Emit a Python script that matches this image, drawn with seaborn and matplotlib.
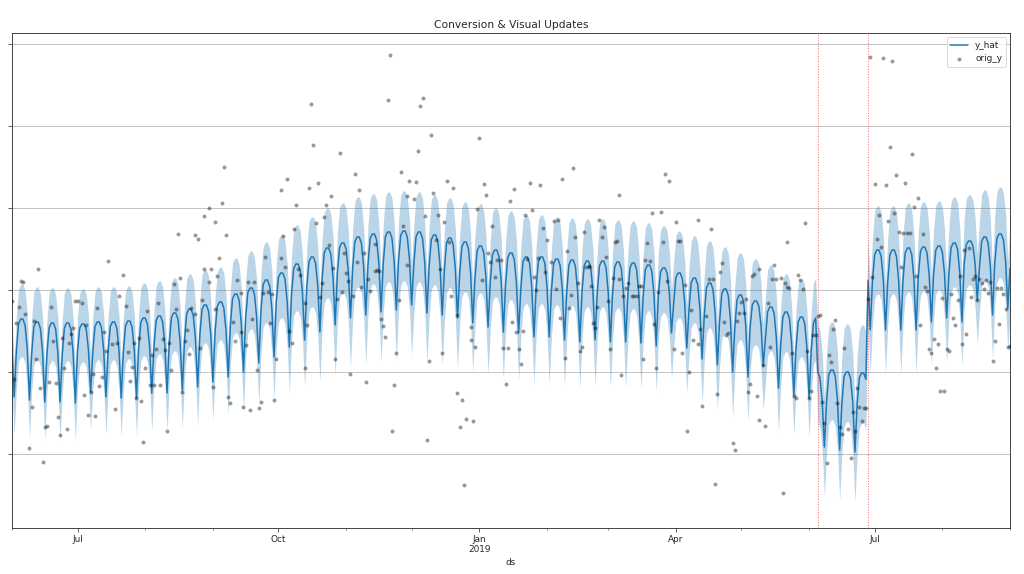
import numpy as np
import pandas as pd
import matplotlib
matplotlib.use("Agg")
import matplotlib.pyplot as plt
import matplotlib.dates as mdates
from matplotlib.ticker import FuncFormatter
import seaborn as sns

# ---------------- data ----------------
start_date = "2018-06-01"
end_date = "2019-09-01"
event_start = "2019-06-05"
event_end = "2019-06-28"

# share of the weekly drop (peak -> trough), Sunday .. Saturday
week_profile = [0.40, 0.06, 0.0, 0.0, 0.08, 0.38, 1.0]

# weekly plateau (peak) and Saturday trough of y_hat, weeks Sun-Sat
week_peak = [209, 209, 206, 205, 205, 204, 206, 206, 207, 210,
             212, 215, 219, 223, 226, 234, 240, 248, 255, 264,
             271, 280, 285, 291, 294, 296, 297, 296, 293, 290,
             286, 282, 278, 275, 271, 271, 269, 268, 267, 267,
             266, 265, 263, 260, 255, 250, 245, 239, 233, 227,
             221, 216, 211, 210, 212, 218, 278, 278, 278, 280,
             281, 282, 285, 287, 291, 294, 296]
week_dip = [131, 128, 126, 126, 125, 136, 131, 130, 130, 135,
            135, 138, 141, 146, 151, 156, 165, 171, 181, 188,
            196, 203, 210, 213, 216, 218, 223, 215, 213, 210,
            205, 201, 196, 195, 191, 191, 188, 186, 188, 186,
            186, 185, 182, 195, 180, 169, 163, 156, 151, 162,
            140, 133, 130, 130, 132, 135, 198, 198, 198, 198,
            206, 210, 206, 228, 213, 220, 205]
# uncertainty above / below y_hat
week_up = [35] * 15 + [36, 37, 38, 38, 39] + [40] * 11 + [42] * 20 + [38, 38] + \
          [40, 48, 48, 44] + [44, 44, 45, 45, 45, 46, 46, 47, 47, 47]
week_lo = [38] * 15 + [39, 41, 43, 45, 47] + [50] * 11 + \
          [47, 47, 47, 47, 47, 46, 46, 46, 46, 46, 46, 46, 45, 45, 45, 45, 45, 45, 44, 44] + \
          [40, 40] + [42, 50, 50, 44] + [44] * 10

# event period (between red lines)
event_peak = [156, 158, 156, 155]
event_dip = [81, 78, 76, 76]
event_up = 48
event_lo = 50

# observed points (day offset from start_date, value)
obs_day = [
    0, 1, 2, 3, 4, 5, 6, 8, 9, 10,
    11, 12, 13, 14, 15, 16, 17, 18, 19, 20,
    21, 22, 23, 24, 25, 26, 27, 28, 29, 30,
    32, 33, 34, 35, 36, 37, 38, 39, 40, 41,
    42, 43, 44, 46, 47, 48, 49, 51, 52, 53,
    54, 55, 56, 57, 58, 59, 60, 61, 62, 63,
    64, 65, 66, 67, 68, 69, 70, 71, 72, 73,
    74, 75, 76, 77, 78, 79, 80, 81, 82, 84,
    84, 85, 86, 87, 88, 88, 90, 90, 91, 92,
    93, 93, 94, 95, 96, 97, 98, 99, 100, 101,
    102, 103, 105, 106, 108, 109,
    113, 114, 120, 162, 174, 175, 112, 107, 105, 110,
    111, 115, 117, 119, 118, 121, 127, 128, 134, 134,
    135, 131, 132, 125, 141, 142, 148, 147, 149, 151,
    153, 154, 155, 156, 158, 160, 163, 164, 166, 167,
    168, 169, 170, 171, 176, 177, 181, 191, 190, 196,
    197, 201, 204, 204, 205, 206, 207, 208, 210, 210,
    211, 212, 215,
    173, 137, 172, 188, 187, 192, 214, 138, 150, 186,
    157, 178, 123, 126, 130, 136, 140, 146, 144, 159,
    182, 185, 181, 184, 199, 202, 193, 216, 217, 213,
    189, 195, 198, 139, 143, 129, 124, 116, 123, 145,
    179, 166, 194, 200, 152, 161, 218,
    228, 230, 237, 242, 252, 257, 278, 299, 301, 220,
    235, 238, 243, 245, 248, 250, 222, 224, 236, 241,
    247, 254, 258, 262, 269, 271, 270, 272, 276, 277,
    264, 290, 292, 291, 293, 297, 298, 304, 305, 306,
    314, 320, 325, 342, 349, 355,
    226, 233, 225, 227, 232, 229, 231, 234, 253, 260,
    261, 274, 279, 289, 295, 303, 307, 309, 310, 312,
    314, 316, 323, 322, 330, 331, 337, 338, 341, 342,
    345, 353, 347, 332, 326, 327, 328, 318, 315, 294,
    266, 267, 251, 255, 268, 273, 280, 284, 285, 286,
    287, 288, 282, 281, 296, 300, 308, 311, 319, 321,
    324, 333, 335, 334, 336, 339, 340, 346, 348, 350,
    352, 354, 355, 344, 219, 221, 239, 240, 244, 249,
    256, 259, 263, 264, 265, 275, 278,
    356, 360, 361, 362, 357, 358, 359, 364, 365, 366,
    367, 368, 369, 370, 371, 372, 373, 374, 375, 376,
    377, 378, 379, 380, 381, 383, 384, 385, 386, 387,
    388, 389, 390, 391, 392, 394, 407, 414, 416, 418,
    419, 420, 421, 422, 423, 424, 425, 427, 426, 428,
    429, 430, 431, 432, 433, 434, 435, 436, 437, 439,
    440, 441, 442, 443, 444, 445, 446, 447, 448, 449,
    450, 451, 452, 453, 454, 455, 456, 457, 363, 393,
    399, 403, 402, 412, 395, 400, 405, 409, 415, 413,
    397, 404, 401, 406, 408, 410, 411, 417, 396, 398,
    438,
]
obs_val = [
    227, 149, 205, 221, 247, 246, 214, 80, 121, 207,
    169, 259, 140, 66, 101, 102, 146, 221, 187, 145,
    111, 93, 190, 160, 99, 185, 194, 200, 227, 227,
    225, 133, 203, 113, 136, 154, 112, 220, 142, 151,
    196, 177, 267, 184, 119, 185, 232, 253, 222, 176,
    147, 161, 185, 130, 190, 127, 86, 160, 217, 143,
    173, 143, 179, 225, 143, 189, 178, 97, 185, 158,
    244, 219, 294, 250, 136, 187, 198, 174, 220, 214,
    293, 289, 180, 228, 259, 312, 246, 320, 259, 141,
    219, 306, 252, 270, 325, 361, 293, 131, 125, 206,
    187, 248, 235, 121, 246, 118,
    120, 126, 128, 146, 97, 143, 158, 183, 196, 209,
    246, 235, 236, 234, 205, 169, 197, 185, 225, 160,
    203, 259, 253, 261, 231, 245, 169, 260, 229, 236,
    255, 247, 154, 232, 266, 241, 249, 237, 257, 258,
    257, 209, 202, 191, 175, 228, 263, 167, 88, 259,
    175, 232, 213, 135, 101, 128, 43, 109, 188, 201,
    107, 181, 248,
    473, 424, 428, 430, 422, 393, 390, 383, 375, 377,
    354, 356, 338, 349, 323, 340, 345, 332, 323, 338,
    347, 346, 332, 329, 347, 340, 335, 344, 333, 319,
    312, 313, 306, 305, 311, 299, 292, 271, 270, 283,
    302, 284, 288, 286, 275, 275, 275,
    327, 339, 345, 343, 349, 360, 333, 354, 347, 302,
    313, 318, 300, 288, 307, 308, 268, 268, 269, 270,
    266, 277, 291, 296, 308, 301, 291, 271, 286, 287,
    261, 268, 267, 285, 315, 316, 286, 306, 287, 287,
    308, 299, 265, 259, 263, 286,
    144, 164, 180, 180, 179, 206, 196, 197, 170, 177,
    181, 179, 153, 169, 160, 179, 175, 97, 156, 188,
    184, 122, 134, 44, 85, 78, 136, 144, 132, 108,
    102, 35, 181, 207, 206, 193, 195, 212, 199, 204,
    205, 200, 210, 220, 221, 227, 232, 232, 232, 232,
    242, 242, 245, 240, 236, 247, 243, 218, 249, 249,
    256, 215, 215, 226, 229, 252, 254, 225, 249, 249,
    250, 245, 241, 163, 266, 251, 251, 238, 256, 239,
    233, 245, 261, 262, 242, 250, 249,
    240, 253, 248, 239, 175, 132, 130, 177, 130, 137,
    193, 193, 212, 213, 126, 105, 65, 173, 166, 199,
    208, 125, 101, 94, 180, 99, 70, 116, 97, 140,
    121, 107, 120, 120, 229, 251, 261, 252, 203, 241,
    237, 179, 175, 189, 160, 184, 137, 137, 230, 179,
    177, 234, 210, 203, 228, 252, 184, 278, 194, 231,
    249, 252, 228, 249, 245, 239, 248, 235, 246, 167,
    187, 240, 204, 240, 234, 219, 181, 182, 305, 471,
    470, 467, 381, 374, 344, 343, 353, 345, 330, 321,
    313, 315, 307, 296, 295, 295, 295, 294, 289, 281,
    280,
]

y_grid = [74, 156, 238, 320, 402, 484]
y_limits = (0, 495)

# ---------------- build series ----------------
ds = pd.date_range(start_date, end_date, freq="D")
dow = np.asarray(ds.dayofweek)
pos = (dow + 1) % 7                 # 0 = Sunday ... 6 = Saturday
week = np.cumsum(dow == 6)          # a new week starts each Sunday
prof = np.asarray(week_profile)[pos]

peak = np.asarray(week_peak, float)[week]
dip = np.asarray(week_dip, float)[week]
up = np.asarray(week_up, float)[week]
lo = np.asarray(week_lo, float)[week]

in_evt = np.asarray((ds >= event_start) & (ds < event_end))
ew = week[in_evt] - week[in_evt].min()
peak[in_evt] = np.asarray(event_peak, float)[ew]
dip[in_evt] = np.asarray(event_dip, float)[ew]
up[in_evt] = event_up
lo[in_evt] = event_lo

y_hat = peak - (peak - dip) * prof
fc = pd.DataFrame({"ds": ds, "y_hat": y_hat,
                   "lower": y_hat - lo, "upper": y_hat + up})
obs = pd.DataFrame({"ds": pd.Timestamp(start_date) + pd.to_timedelta(obs_day, unit="D"),
                    "orig_y": obs_val})

# ---------------- plot ----------------
sns.set_style("ticks")
plt.rcParams["font.family"] = ["DejaVu Sans"]

fig = plt.figure(figsize=(16, 574 / 64), dpi=64)
ax = fig.add_axes([12 / 1024, 46 / 574, 998 / 1024, 495 / 574])

ax.fill_between(fc["ds"], fc["lower"], fc["upper"], color="#1f77b4",
                alpha=0.3, linewidth=0, zorder=1)
sns.lineplot(data=fc, x="ds", y="y_hat", ax=ax, color="#1f77b4",
             linewidth=1.7, label="y_hat", zorder=2)
sns.scatterplot(data=obs, x="ds", y="orig_y", ax=ax, color="black",
                alpha=0.4, s=20, linewidth=0, label="orig_y", zorder=3)

for d in (event_start, event_end):
    ax.axvline(pd.Timestamp(d), color="red", linestyle=":", linewidth=1.1,
               alpha=0.6, zorder=4)

ax.set_xlim(pd.Timestamp(start_date), pd.Timestamp(end_date))
ax.set_ylim(*y_limits)
ax.set_yticks(y_grid)
ax.set_yticklabels([])
ax.yaxis.grid(True, color="#bdbdbd", linewidth=1.0)
ax.xaxis.grid(False)


def fmt(x, _):
    d = mdates.num2date(x)
    return d.strftime("%b\n%Y") if d.month == 1 else d.strftime("%b")


ax.xaxis.set_major_locator(mdates.MonthLocator(bymonth=[1, 4, 7, 10]))
ax.xaxis.set_minor_locator(mdates.MonthLocator())
ax.xaxis.set_major_formatter(FuncFormatter(fmt))
ax.tick_params(axis="both", which="major", length=4, width=0.8, labelsize=10)
ax.tick_params(axis="x", which="minor", length=2, width=0.6)
for lab in ax.get_xticklabels():
    lab.set_ha("center")

for s in ax.spines.values():
    s.set_visible(True)
    s.set_color("#333333")
    s.set_linewidth(1.0)

ax.set_xlabel("ds", fontsize=10)
ax.set_ylabel("")
ax.set_title("Conversion & Visual Updates", fontsize=12)
ax.legend(loc="upper right", fontsize=10, frameon=True, framealpha=0.8)

fig.savefig("out.png", dpi=64)
